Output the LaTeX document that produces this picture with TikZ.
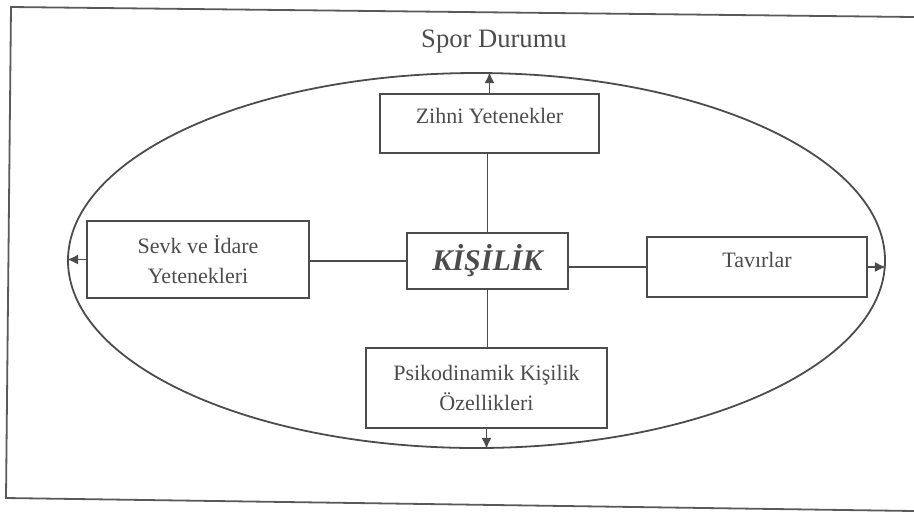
\documentclass[tikz,border=0pt]{standalone}
\usepackage{fontspec}
\setmainfont{Liberation Serif}
\usepackage{tikz}
\usetikzlibrary{shapes.geometric, positioning, arrows.meta}
\tikzset{
 box/.style = {
    rectangle, draw=black!70, line width=0.9pt,
    text=black!70, font=\fontsize{11}{15}\selectfont,
    align=center, inner sep=0pt},
 line/.style = {
    draw=black!70, line width=0.9pt},
 arrowline/.style = {
    line, -{Latex[length=5.5pt, width=5pt]}},
}
\begin{document}
\begin{tikzpicture}[x=0.5pt, y=-0.5pt]
    \useasboundingbox (0,0) rectangle (914,516);

    % frame
    \draw [line, black!65] (914,17) -- (11,7) -- (6,498) -- (914,511);

    % Place nodes
    \node [ellipse, draw=black!70, line width=0.9pt, minimum width=408.5pt, minimum height=187.5pt, inner sep=0pt] (spor) at (476.5,260.5) {};
    \node [text=black!70, font=\fontsize{13.3}{16}\selectfont] (durum) at (494,42) {Spor Durumu};

    \node [box, font=\fontsize{15}{18}\selectfont\bfseries\itshape, minimum width=80.5pt, minimum height=28pt] (kisilik) at (487.5,261) {KİŞİLİK};
    \node [box, minimum width=109.5pt, text height=14.5pt, text depth=15pt] (zihni) at (489.5,123.5) {Zihni Yetenekler};
    \node [box, minimum width=111pt, minimum height=38.5pt] (sevk) at (198,259.5) {Sevk ve İdare\\Yetenekleri};
    \node [box, minimum width=110pt, text height=15pt, text depth=15pt] (tavir) at (757,267) {Tavırlar};
    \node [box, minimum width=120.5pt, minimum height=40pt] (psiko) at (486.5,388) {Psikodinamik Kişilik\\Özellikleri};

    % links to KİŞİLİK
    \path [line] (kisilik.north) -- (kisilik.north |- zihni.south);
    \path [line] (kisilik.west) -- (kisilik.west -| sevk.east);
    \path [line] (tavir.west) -- (tavir.west -| kisilik.east);
    \path [line] (kisilik.south) -- (kisilik.south |- psiko.north);

    % arrows out to the ellipse
    \path [arrowline] (zihni.north) -- (zihni.north |- spor.north);
    \path [arrowline] (sevk.west) -- (sevk.west -| spor.west);
    \path [arrowline] (tavir.east) -- (tavir.east -| spor.east);
    \path [arrowline] (psiko.south) -- (psiko.south |- spor.south);
\end{tikzpicture}
\end{document}
